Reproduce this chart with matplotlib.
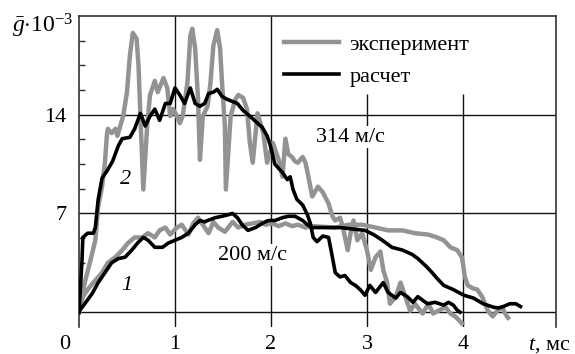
import numpy as np
import matplotlib
matplotlib.use("Agg")
import matplotlib.pyplot as plt
from matplotlib.transforms import ScaledTranslation

plt.rcParams['font.family'] = ['Liberation Serif', 'DejaVu Serif']
plt.rcParams['mathtext.fontset'] = 'custom'
plt.rcParams['mathtext.rm'] = 'Liberation Serif'
plt.rcParams['mathtext.it'] = 'Liberation Serif:italic'

# curve 2 (314 m/s), calculation
calc2_t = [0, 0.03, 0.04, 0.09, 0.15, 0.17, 0.20, 0.24, 0.29, 0.35, 0.41, 0.45, 0.53, 0.58, 0.64,
           0.69, 0.74, 0.79, 0.84, 0.90, 0.95, 1.00, 1.05, 1.10, 1.16, 1.21, 1.26, 1.31, 1.35, 1.40,
           1.44, 1.49, 1.54, 1.65, 1.71, 1.78, 1.86, 1.91, 1.96, 1.99, 2.02, 2.04, 2.12, 2.17, 2.20,
           2.23, 2.27, 2.33, 2.38, 2.41, 2.44, 2.48, 2.54, 2.60, 2.64, 2.67, 2.72, 2.77, 2.83, 2.88,
           2.93, 2.98, 3.03, 3.09, 3.17, 3.22, 3.30, 3.35, 3.42, 3.48, 3.53, 3.63, 3.71, 3.80, 3.85,
           3.90, 3.94, 3.97]
calc2_g = [0, 3.5, 5.3, 5.6, 5.6, 6.0, 8.0, 9.5, 10.0, 10.7, 11.8, 12.3, 12.4, 13.0, 14.1,
           13.2, 13.9, 14.4, 13.6, 14.8, 14.8, 15.9, 15.4, 14.8, 15.9, 14.8, 14.6, 14.8, 15.5, 15.6,
           15.8, 15.3, 15.1, 14.8, 14.3, 13.9, 13.4, 13.1, 12.5, 11.9, 11.1, 10.5, 9.9, 9.4, 9.6,
           8.7, 8.0, 7.6, 6.9, 6.3, 5.3, 5.0, 5.4, 5.3, 3.9, 2.8, 2.5, 2.6, 2.1, 1.9,
           1.6, 1.2, 1.9, 1.4, 2.1, 1.4, 1.0, 1.4, 1.1, 0.7, 1.1, 0.6, 0.7, 0.5, 0.7,
           0.5, 0.15, 0.0]

# curve 2 (314 m/s), experiment
exp2_t = [0, 0.06, 0.12, 0.17, 0.20, 0.24, 0.27, 0.29, 0.30, 0.34, 0.38, 0.40, 0.43, 0.46, 0.50,
          0.53, 0.56, 0.60, 0.62, 0.64, 0.67, 0.71, 0.74, 0.79, 0.82, 0.88, 0.92, 0.95, 0.98, 1.02,
          1.05, 1.08, 1.13, 1.16, 1.18, 1.21, 1.24, 1.26, 1.29, 1.34, 1.37, 1.40, 1.44, 1.47, 1.49,
          1.52, 1.53, 1.58, 1.63, 1.66, 1.71, 1.75, 1.78, 1.81, 1.86, 1.89, 1.92, 1.96, 2.02, 2.08,
          2.12, 2.15, 2.18, 2.22, 2.25, 2.28, 2.33, 2.36, 2.39, 2.43, 2.49, 2.54, 2.60, 2.64, 2.67,
          2.72, 2.75, 2.80, 2.83, 2.86, 2.90, 2.95, 3.00, 3.04, 3.09, 3.14, 3.17, 3.21, 3.24, 3.30,
          3.35, 3.40, 3.45, 3.50, 3.58, 3.64, 3.69, 3.77, 3.82, 3.87, 3.92, 3.99]
exp2_g = [0, 2.1, 3.7, 5.1, 7.5, 8.9, 10.6, 12.5, 13.0, 12.7, 13.0, 12.5, 13.2, 13.9, 15.6,
          18.2, 19.8, 19.4, 17.5, 13.9, 8.7, 13.2, 15.4, 16.4, 15.6, 16.6, 15.9, 13.9, 14.4, 13.9,
          13.4, 13.9, 16.3, 19.6, 20.1, 18.7, 15.1, 10.8, 13.9, 14.6, 16.3, 18.9, 20.0, 18.7, 16.3,
          13.2, 8.7, 13.9, 15.1, 15.4, 15.2, 14.4, 12.0, 10.6, 14.1, 13.4, 12.7, 10.6, 12.0, 10.8,
          9.6, 12.3, 11.2, 11.0, 10.7, 10.6, 11.0, 10.6, 9.6, 8.2, 8.9, 8.5, 7.7, 6.8, 6.5,
          6.7, 6.0, 4.4, 5.6, 6.5, 5.1, 5.6, 4.4, 3.0, 3.9, 4.3, 3.0, 2.1, 0.6, 1.1,
          2.1, 1.1, 0.1, 0.6, -0.1, 0.6, -0.1, 0.2, 0.35, -0.1, -0.3, -0.8]

# curve 1 (200 m/s), calculation
calc1_t = [0, 0.01, 0.06, 0.14, 0.20, 0.27, 0.34, 0.41, 0.48, 0.55, 0.61, 0.67, 0.72, 0.79, 0.87,
           0.93, 1.00, 1.07, 1.14, 1.21, 1.26, 1.31, 1.34, 1.42, 1.49, 1.55, 1.60, 1.65, 1.70, 1.76,
           1.84, 1.91, 1.97, 2.04, 2.12, 2.18, 2.25, 2.33, 2.38, 2.43, 2.57, 2.72, 2.85, 2.98, 3.07,
           3.16, 3.26, 3.37, 3.47, 3.53, 3.61, 3.68, 3.73, 3.80, 3.90, 4.01, 4.11, 4.21, 4.32, 4.37,
           4.42, 4.49, 4.55, 4.60]
calc1_g = [0, 0.15, 0.6, 1.35, 2.1, 2.8, 3.5, 3.8, 3.9, 4.4, 4.9, 5.3, 5.1, 4.6, 4.6,
           4.9, 5.1, 5.3, 5.6, 6.2, 6.5, 6.4, 6.5, 6.7, 6.8, 6.9, 7.0, 6.7, 6.2, 5.8,
           6.0, 6.3, 6.5, 6.5, 6.7, 6.8, 6.8, 6.5, 6.2, 6.0, 6.0, 6.0, 5.9, 5.8, 5.5,
           5.1, 4.6, 4.4, 4.1, 3.8, 3.3, 2.8, 2.4, 1.9, 1.6, 1.2, 1.0, 0.6, 0.35, 0.3,
           0.4, 0.6, 0.6, 0.4]

# curve 1 (200 m/s), experiment
exp1_t = [0, 0.04, 0.09, 0.15, 0.24, 0.30, 0.38, 0.45, 0.51, 0.58, 0.66, 0.72, 0.79, 0.84, 0.90,
          0.95, 1.02, 1.07, 1.14, 1.19, 1.24, 1.29, 1.35, 1.40, 1.45, 1.52, 1.60, 1.66, 1.73, 1.81,
          1.89, 1.94, 2.01, 2.08, 2.15, 2.22, 2.28, 2.36, 2.43, 2.67, 2.81, 2.95, 3.09, 3.22, 3.37,
          3.50, 3.64, 3.73, 3.80, 3.87, 3.94, 3.99, 4.02, 4.05, 4.10, 4.15, 4.20, 4.26, 4.31, 4.36,
          4.41, 4.44, 4.47]
exp1_g = [0, 1.1, 1.6, 2.1, 2.8, 3.5, 3.9, 4.4, 4.9, 5.3, 5.3, 5.6, 5.3, 5.8, 6.0,
          5.5, 6.0, 6.2, 5.5, 6.3, 6.7, 6.2, 5.6, 6.4, 6.0, 5.7, 6.4, 6.0, 6.2, 6.3,
          6.4, 6.2, 6.3, 6.1, 6.3, 6.1, 6.2, 6.0, 6.1, 6.0, 6.2, 6.2, 6.0, 5.8, 5.8,
          5.6, 5.5, 5.3, 5.1, 4.6, 4.4, 3.9, 2.5, 1.9, 1.7, 1.6, 1.1, 0.1, -0.3, 0.1,
          0.35, -0.1, -0.4]

x_ticks = [0, 1, 2, 3, 4]
y_ticks = [7, 14]
y_minor = [1.75, 3.5, 5.25, 8.75, 10.5, 12.25, 15.75, 17.5, 19.25]

SERIF = 'Liberation Serif'
GRAY = '#939393'
fig = plt.figure(figsize=(5.75, 3.54), dpi=100)
ax = fig.add_axes([0.1374, 0.0763, 0.8296, 0.8785])
ax.set_xlim(0, 4.97)
ax.set_ylim(-1.05, 21.0)

# grid: x=3 and x=4 are hidden under the legend at the top
ax.vlines([1, 2], -1.05, 21.0, color='#111111', lw=1.0, zorder=1)
ax.vlines([3, 4], -1.05, 15.5, color='#111111', lw=1.0, zorder=1)
ax.axhline(0, color='#111111', lw=1.0, zorder=1)
for yv in y_ticks:
    ax.axhline(yv, color='#111111', lw=1.0, zorder=1)

ax.plot(exp2_t, exp2_g, color=GRAY, lw=3.2, zorder=2, label='эксперимент')
ax.plot(exp1_t, exp1_g, color=GRAY, lw=3.2, zorder=2)
ax.plot(calc2_t, calc2_g, color='black', lw=2.6, zorder=3, label='расчет')
ax.plot(calc1_t, calc1_g, color='black', lw=2.6, zorder=3)

for s in ['left', 'right', 'top']:
    ax.spines[s].set_color('#333333')
    ax.spines[s].set_linewidth(1.2)
ax.spines['bottom'].set_visible(False)

ax.set_xticks(x_ticks)
ax.set_yticks(y_ticks)
ax.set_yticks(y_minor, minor=True)
ax.tick_params(axis='x', length=0, pad=6, labelsize=16)
ax.tick_params(axis='y', which='major', length=0, pad=9, labelsize=16)
ax.tick_params(axis='y', which='minor', direction='in', length=4, width=1, color='#333333')
for lbl in ax.get_xticklabels() + ax.get_yticklabels():
    lbl.set_family(SERIF)
# the "0" sits at the corner, left of the axis
lbl0 = ax.get_xticklabels()[0]
lbl0.set_transform(lbl0.get_transform() + ScaledTranslation(-0.14, 0, fig.dpi_scale_trans))

ax.text(2.83, 12.4, '314 м/с', fontsize=16, family=SERIF, ha='center', va='center',
        bbox=dict(facecolor='white', edgecolor='none', pad=1), zorder=4)
ax.text(1.81, 4.05, '200 м/с', fontsize=16, family=SERIF, ha='center', va='center',
        bbox=dict(facecolor='white', edgecolor='none', pad=1), zorder=4)
ax.text(0.48, 9.4, '2', fontsize=16, family=SERIF, style='italic', ha='center', va='center', zorder=4)
ax.text(0.50, 1.9, '1', fontsize=16, family=SERIF, style='italic', ha='center', va='center', zorder=4)

ax.legend(loc='upper left', bbox_to_anchor=(0.397, 0.99), frameon=False,
          prop={'family': SERIF, 'size': 16},
          handlelength=2.5, handletextpad=0.45, labelspacing=0.5, borderpad=0.2)

fig.text(12 / 575, 1 - 33 / 354, r'$\bar{g}{\cdot}10^{-3}$', fontsize=17, va='baseline')
fig.text(528 / 575, 1 - 350 / 354, r'$t$, мс', fontsize=16, family=SERIF, va='baseline')

fig.savefig('out.png', dpi=100, facecolor='white')
